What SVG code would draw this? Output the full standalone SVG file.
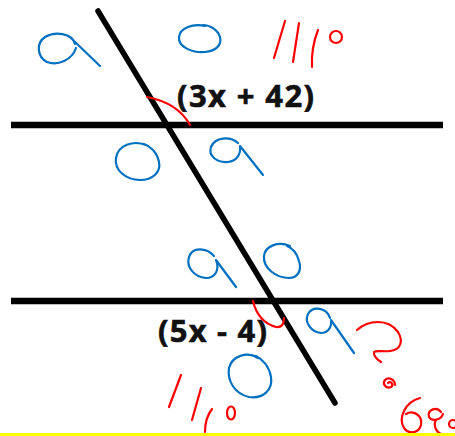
<svg xmlns="http://www.w3.org/2000/svg" width="455" height="436" viewBox="0 0 455 436">
<style>
.ln{stroke:#000;fill:none}
.bl{stroke:#0070C0;stroke-width:2.2;fill:none;stroke-linecap:round;stroke-linejoin:round}
.rd{stroke:#FF0000;stroke-width:2.2;fill:none;stroke-linecap:round;stroke-linejoin:round}
.lbl{font-family:"Open Sans","Liberation Sans",sans-serif;font-weight:bold;font-size:31px;fill:#111;stroke:#111;stroke-width:0.6}
</style>
<rect width="455" height="436" fill="#fff"/>
<g id="lines">
<line class="ln" x1="11" y1="125" x2="443" y2="125" stroke-width="6.5"/>
<line class="ln" x1="11" y1="301" x2="443" y2="301" stroke-width="6.5"/>
<line class="ln" x1="98" y1="11" x2="335" y2="403" stroke-width="5.5" stroke-linecap="round"/>
</g>
<g id="labels">
<text class="lbl" x="177" y="107" textLength="137">(3x + 42)</text>
<text class="lbl" x="158" y="342" textLength="109">(5x - 4)</text>
</g>
<g id="blue-marks">
<path class="bl" d="M75,44 C72,33 55,31 45,37 C36,43 37,57 47,62 C58,66 72,60 76,48 M74,41 L100,66"/>
<path class="bl" d="M205,26 C193,23 180,28 179,37 C178,47 192,53 205,52 C216,51 222,45 220,37 C218,30 210,25 203,25"/>
<path class="bl" d="M146,145 C133,140 118,145 116,158 C114,170 126,180 140,180 C153,180 161,172 159,162 C157,152 150,146 144,144"/>
<path class="bl" d="M238,143 C230,136 215,137 211,147 C208,156 217,163 228,162 C237,161 241,154 240,146 L263,175"/>
<path class="bl" d="M214,256 C206,247 192,247 189,257 C186,267 194,277 206,278 C215,278 220,270 216,260 L236,287"/>
<path class="bl" d="M290,246 C278,241 265,246 264,256 C263,268 276,278 289,278 C298,278 302,270 299,261 C297,253 292,248 287,246"/>
<path class="bl" d="M330,318 C327,308 313,305 308,314 C304,322 311,332 321,333 C328,333 332,327 331,320 L354,353"/>
<path class="bl" d="M258,358 C247,351 232,356 229,368 C227,381 235,394 249,397 C263,399 273,390 271,377 C269,366 262,359 256,356"/>
</g>
<g id="red-marks">
<path class="rd" d="M147,97 Q178,103 190,125"/>
<path class="rd" d="M253,301 Q258,322 276,327 Q284,328 284,318"/>
<path class="rd" d="M285,21 L274,58 M299,23 Q296,43 293,62 M318,30 Q311,48 312,67"/>
<circle class="rd" cx="336" cy="37" r="6"/>
<path class="rd" d="M181,375 L169,407 M201,388 L192,420 M212,409 Q205,418 205,432"/>
<ellipse class="rd" cx="231" cy="413" rx="4" ry="6.5"/>
<path class="rd" d="M357,330 C368,320 388,318 398,332 C404,342 400,350 390,351 C383,352 376,350 374,352 C373,356 378,360 381,362"/>
<path class="rd" d="M388,383 C391,380 394,385 391,387 C386,389 382,384 385,380 C389,376 395,380 395,385"/>
<path class="rd" d="M420,398 C405,402 398,418 404,428 C409,435 419,433 421,425 C423,415 413,410 406,414"/>
<path class="rd" d="M441,412 C436,406 427,410 429,417 C432,422 441,420 443,414 M436,420 C433,425 436,432 441,434"/>
<circle class="rd" cx="453" cy="424" r="4"/>
</g>
<rect x="0" y="433" width="455" height="3" fill="#FFFF00"/>
</svg>
